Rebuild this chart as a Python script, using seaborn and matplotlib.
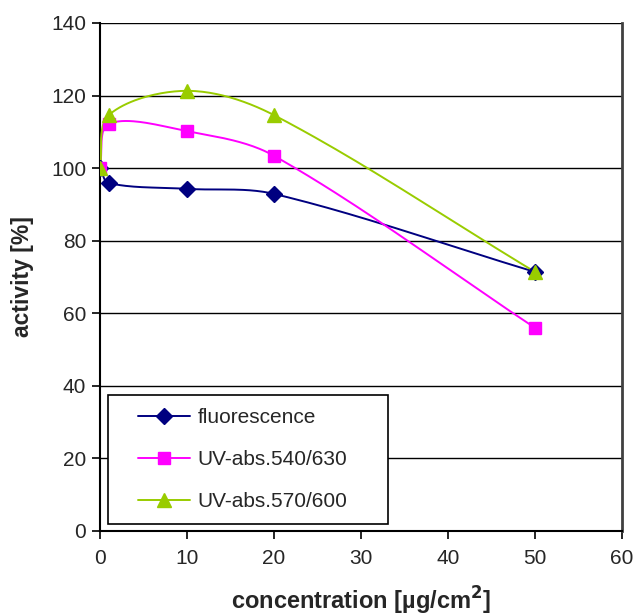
import numpy as np
import matplotlib
matplotlib.use("Agg")
import matplotlib.pyplot as plt
import seaborn as sns
import pandas as pd

sns.set_style("white")
plt.rcParams['font.family'] = ['Liberation Sans', 'DejaVu Sans']

concentration = [0, 1, 10, 20, 50]
fluorescence = [100, 95.9, 94.3, 92.9, 71.4]
uv_540_630 = [100, 112.2, 110.2, 103.4, 56.0]
uv_570_600 = [100, 114.6, 121.3, 114.6, 71.4]

series_names = ['fluorescence', 'UV-abs.540/630', 'UV-abs.570/600']
colors = ['#000080', '#FF00FF', '#99CC00']
markers = ['D', 's', '^']
msizes = [8, 8, 9.5]

df = pd.DataFrame({
    'concentration': concentration * 3,
    'activity': fluorescence + uv_540_630 + uv_570_600,
    'series': np.repeat(series_names, len(concentration)),
})

# pixel scale of the axes, used so the smoothing looks right on screen
SX, SY = 522 / 60, 508 / 140


def smooth(x, y, n=40):
    # smoothed line: bezier segments, tangents weighted by segment length
    p = np.column_stack([np.asarray(x, float) * SX, np.asarray(y, float) * SY])
    k = len(p)
    tang = np.zeros_like(p)
    for i in range(k):
        a = p[max(i - 1, 0)]
        b = p[min(i + 1, k - 1)]
        tang[i] = b - a
    t = np.linspace(0, 1, n)[:, None]
    out = []
    for i in range(k - 1):
        p0, p3 = p[i], p[i + 1]
        seg = np.linalg.norm(p3 - p0)
        l0 = np.linalg.norm(p[i] - p[max(i - 1, 0)]) + np.linalg.norm(p[min(i + 1, k - 1)] - p[i])
        l1 = np.linalg.norm(p[i + 1] - p[i]) + np.linalg.norm(p[min(i + 2, k - 1)] - p[i + 1])
        p1 = p0 + tang[i] * seg / l0 / 3
        p2 = p3 - tang[i + 1] * seg / l1 / 3
        b = ((1 - t) ** 3) * p0 + 3 * ((1 - t) ** 2) * t * p1 + 3 * (1 - t) * t ** 2 * p2 + t ** 3 * p3
        out.append(b)
    out = np.concatenate(out)
    return out[:, 0] / SX, out[:, 1] / SY


fig = plt.figure(figsize=(6.35, 6.16), dpi=100)
ax = fig.add_axes([0.1575, 0.138, 0.822, 0.8247])

for name, c, m, ms in zip(series_names, colors, markers, msizes):
    sub = df[df['series'] == name]
    sx, sy = smooth(sub['concentration'], sub['activity'])
    ax.plot(sx, sy, color=c, lw=1.4, zorder=3)
    ax.plot(sub['concentration'], sub['activity'], linestyle='none', marker=m,
            markersize=ms, color=c, zorder=4)

handles = [plt.Line2D([], [], color=c, lw=1.4, marker=m, markersize=ms)
           for c, m, ms in zip(colors, markers, msizes)]

ax.set_xlim(0, 60)
ax.set_ylim(0, 140)
ax.set_xticks(range(0, 61, 10))
ax.set_yticks(range(0, 141, 20))
ax.yaxis.grid(True, color='black', lw=1)
ax.set_axisbelow(True)
for s in ['left', 'bottom']:
    ax.spines[s].set_color('black')
    ax.spines[s].set_linewidth(1.5)
ax.spines['top'].set_visible(False)
ax.spines['right'].set_color('#404040')
ax.spines['right'].set_linewidth(2)
ax.tick_params(axis='both', direction='out', length=6, width=1.2, color='black',
               labelsize=15, bottom=True, left=True)
ax.tick_params(axis='x', pad=7)
ax.tick_params(axis='y', pad=4)

ax.set_xlabel('concentration [µg/cm$^{\\mathbf{2}}$]', fontsize=17, fontweight='bold', labelpad=12)
ax.set_ylabel('activity [%]', fontsize=16.5, fontweight='bold', labelpad=12)

# legend frame drawn separately so the entries can sit inset like the original
frame = plt.Rectangle((0.0153, 0.0138), 0.536, 0.254, transform=ax.transAxes,
                      facecolor='white', edgecolor='black', lw=1.2, zorder=4.5)
ax.add_patch(frame)
leg = ax.legend(handles, series_names, loc='upper left',
                bbox_to_anchor=(0.0728, 0.242), frameon=False,
                borderaxespad=0, borderpad=0,
                fontsize=15, handlelength=2.5, handletextpad=0.35,
                labelspacing=1.1)
leg.set_zorder(5)

fig.savefig('out.png', dpi=100)
